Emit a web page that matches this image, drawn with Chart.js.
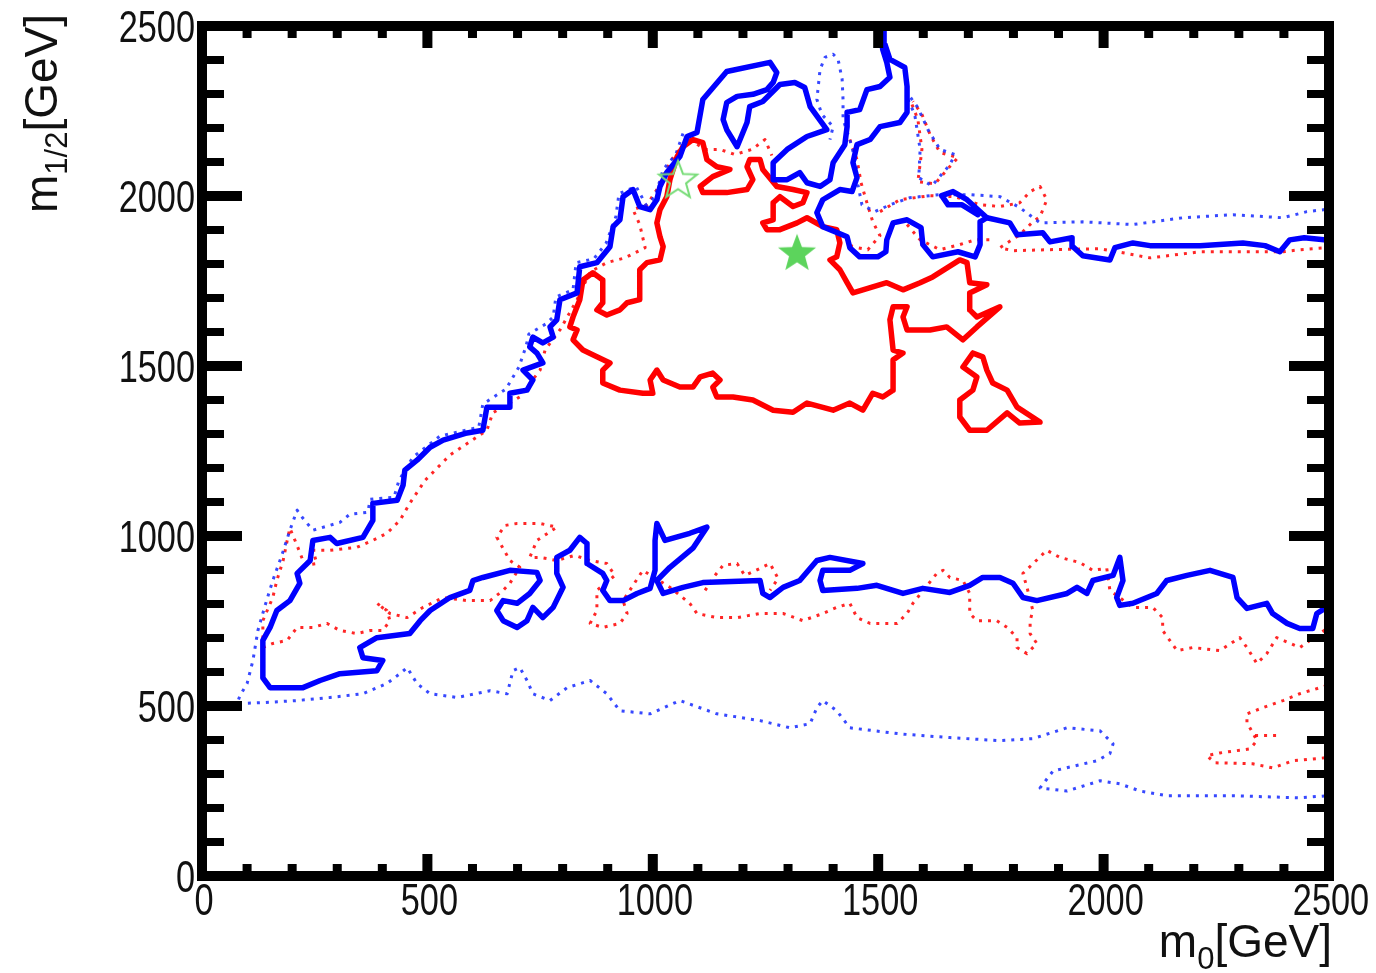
<!DOCTYPE html>
<html>
<head>
<meta charset="utf-8">
<script src="https://cdn.jsdelivr.net/npm/chart.js@4/dist/chart.umd.min.js"></script>
<style>
  html, body { margin: 0; padding: 0; background: #fff; }
  #wrap { width: 1376px; height: 973px; }
</style>
</head>
<body>
<div id="wrap"><canvas id="c" width="1376" height="973"></canvas></div>
<script>
// axis ranges and tick labels (GeV)
const xRange = [0, 2500];
const yRange = [0, 2500];
const xTickLabels = [0, 500, 1000, 1500, 2000, 2500];
const yTickLabels = [0, 500, 1000, 1500, 2000, 2500];
const minorStep = 100;

// contour lines, [m0, m1/2] in GeV
const blueSolidMain = [
  [2500,1870],[2445,1877],[2413,1871],[2391,1836],[2358,1854],[2309,1862],[2214,1854],[2103,1854],
  [2065,1862],[2025,1848],[2014,1812],[1954,1824],[1932,1851],[1930,1877],[1881,1865],[1865,1892],
  [1808,1886],[1792,1921],[1741,1936],[1726,1924],[1726,1857],[1715,1821],[1677,1836],[1621,1821],
  [1599,1857],[1595,1907],[1564,1930],[1533,1921],[1519,1871],[1517,1836],[1499,1821],[1459,1821],
  [1437,1848],[1431,1880],[1377,1910],[1364,1951],[1377,1989],[1415,2019],[1442,2013],[1453,2054],
  [1444,2098],[1453,2151],[1482,2166],[1504,2204],[1548,2216],[1564,2246],[1564,2322],[1559,2378],
  [1526,2402],[1515,2446],[1513,2495],[1504,2490],[1510,2431],[1519,2393],[1526,2349],[1504,2322],
  [1475,2313],[1459,2254],[1431,2246],[1431,2204],[1426,2151],[1400,2098],[1393,2048],[1371,2028],
  [1342,2039],[1326,2069],[1298,2048],[1267,2048],[1267,2098],[1298,2137],[1342,2175],[1386,2195],
  [1349,2263],[1337,2319],[1315,2334],[1282,2328],[1244,2278],[1215,2263],[1209,2216],[1187,2145],
  [1164,2195],[1156,2225],[1164,2275],[1187,2293],[1222,2299],[1253,2313],[1267,2334],[1275,2363],
  [1260,2393],[1164,2366],[1111,2284],[1098,2187],[1076,2175],[1060,2116],[1031,2069],[1016,2028],
  [1009,1989],[994,1960],[971,1969],[956,2019],[934,1998],[927,1930],[912,1910],[905,1851],
  [876,1804],[838,1792],[832,1715],[794,1695],[787,1636],[772,1615],[779,1585],[756,1568],
  [734,1585],[727,1556],[743,1538],[756,1509],[712,1488],[734,1459],[721,1429],[683,1420],
  [683,1379],[632,1379],[623,1311],[588,1303],[535,1282],[506,1261],[477,1223],[450,1194],
  [446,1149],[433,1105],[379,1096],[379,1046],[357,996],[299,978],[284,996],[246,987],
  [240,928],[211,890],[217,861],[195,810],[166,781],[151,731],[135,693],[135,583],
  [151,554],[224,554],[262,575],[306,595],[388,604],[401,634],[357,642],[350,672],
  [388,701],[461,713],[484,751],[506,781],[550,819],[594,840],[601,869],[623,878],
  [683,899],[743,893],[750,869],[727,831],[699,802],[668,810],[654,781],[668,751],
  [699,731],[721,751],[734,790],[756,760],[779,790],[801,849],[787,890],[787,937],
  [816,958],[838,996],[854,978],[854,919],[889,890],[898,869],[889,840],[905,810],
  [934,810],[965,831],[994,846],[1005,899],[1005,987],[1009,1037],[1027,987],[1082,1008],
  [1120,1026],[1089,964],[1038,908],[1009,869],[1023,831],[1067,849],[1111,863],[1238,869],
  [1244,831],[1260,819],[1289,849],[1326,869],[1364,928],[1393,937],[1466,919],[1437,899],
  [1377,899],[1371,869],[1377,840],[1453,846],[1497,855],[1555,831],[1599,846],[1659,834],
  [1703,855],[1732,878],[1770,878],[1799,861],[1821,819],[1852,810],[1919,831],[1941,849],
  [1963,831],[1976,869],[2021,884],[2036,937],[2043,869],[2029,819],[2036,796],[2065,802],
  [2118,831],[2140,869],[2185,884],[2236,899],[2287,878],[2296,819],[2318,787],[2362,802],
  [2375,772],[2407,743],[2435,728],[2464,728],[2473,772],[2491,787]
];
const blueSolidSpur = [
  [1741,1936],[1697,1989],[1666,2013],[1641,2001],[1655,1974],[1686,1974],[1721,1945]
];

const blueDotMain = [
  [1067,2184],[1051,2122],[1023,2078],[1005,1998],[985,1974],[963,2028],[925,2007],[918,1939],
  [896,1860],[869,1815],[830,1804],[823,1724],[785,1703],[779,1644],[763,1624],[725,1594],
  [719,1559],[703,1497],[674,1432],[623,1388],[614,1320],[528,1294],[468,1232],[437,1164],
  [426,1114],[373,1108],[368,1070],[328,1064],[306,1040],[246,1017],[224,1052],[211,1076],
  [195,1017],[177,943],[157,869],[140,796],[124,722],[113,634],[100,566],[84,530],
  [78,507],[135,510],[211,516],[284,525],[357,536],[410,566],[439,595],[455,613],
  [477,566],[506,536],[566,525],[639,545],[677,536],[690,604],[705,613],[721,575],
  [734,536],[772,516],[810,554],[861,575],[898,536],[927,486],[994,477],[1060,516],
  [1142,477],[1238,457],[1304,436],[1349,448],[1364,495],[1377,516],[1408,486],[1437,436],
  [1548,418],[1659,407],[1770,398],[1843,404],[1919,436],[1992,427],[2021,389],[2014,360],
  [1985,339],[1888,309],[1859,259],[1919,250],[1992,280],[2036,271],[2081,250],[2140,236],
  [2287,236],[2435,230],[2495,236]
];
const blueDotUpper = [
  [2491,1960],[2451,1954],[2398,1936],[2287,1945],[2176,1936],[2065,1916],[1954,1924],[1859,1921],
  [1814,1966],[1770,1998],[1703,2004],[1637,2004],[1570,1995],[1526,1974],[1493,1954],[1464,1974],
  [1455,2033],[1449,2107],[1437,2166],[1422,2225],[1422,2284],[1420,2343],[1411,2402],[1400,2417],
  [1382,2408],[1371,2372],[1364,2284],[1375,2240],[1400,2204],[1393,2166]
];
const blueDotLoop = [
  [1566,2284],[1581,2240],[1593,2137],[1590,2054],[1619,2030],[1659,2092],[1670,2122],[1637,2137],
  [1610,2196],[1588,2260],[1570,2293]
];

const redSolidMain = [
  [1067,2145],[1089,2166],[1111,2157],[1120,2107],[1142,2086],[1171,2078],[1133,2057],[1105,2028],
  [1111,2010],[1164,2010],[1209,2019],[1222,2048],[1209,2086],[1215,2107],[1238,2107],[1244,2078],
  [1275,2028],[1311,2019],[1342,2010],[1333,1980],[1311,1969],[1282,1998],[1267,1980],[1267,1930],
  [1244,1921],[1253,1901],[1282,1901],[1320,1921],[1342,1936],[1377,1910],[1408,1901],[1415,1862],
  [1408,1821],[1393,1812],[1415,1783],[1431,1745],[1444,1715],[1466,1724],[1519,1745],[1555,1724],
  [1593,1745],[1621,1762],[1681,1812],[1697,1804],[1703,1745],[1741,1739],[1703,1715],[1703,1665],
  [1719,1644],[1770,1674],[1719,1615],[1688,1577],[1652,1615],[1615,1606],[1564,1606],[1555,1644],
  [1564,1674],[1533,1674],[1526,1636],[1533,1547],[1555,1538],[1533,1518],[1533,1429],[1510,1409],
  [1488,1420],[1466,1370],[1437,1391],[1400,1370],[1342,1391],[1311,1364],[1267,1370],[1222,1400],
  [1178,1409],[1142,1409],[1133,1438],[1149,1459],[1133,1479],[1105,1468],[1089,1438],[1060,1438],
  [1023,1459],[1009,1488],[994,1459],[1000,1420],[978,1420],[927,1429],[889,1450],[889,1488],
  [905,1509],[876,1527],[845,1547],[823,1577],[832,1606],[816,1615],[823,1644],[838,1695],
  [845,1753],[867,1774],[889,1753],[889,1686],[876,1665],[898,1650],[927,1665],[943,1686],
  [971,1695],[971,1783],[987,1804],[1016,1812],[1023,1851],[1016,1880],[1009,1921],[1016,1960],
  [1031,1998],[1038,2048],[1054,2116],[1067,2145]
];
const redSolidLoop = [
  [1710,1538],[1688,1497],[1719,1468],[1710,1429],[1681,1400],[1681,1350],[1703,1311],[1741,1311],
  [1786,1362],[1814,1332],[1859,1335],[1808,1379],[1786,1429],[1754,1450],[1741,1488],[1732,1527],
  [1710,1538]
];

const redDotDiag = [
  [135,672],[135,751],[157,819],[166,869],[180,928],[189,987],[195,1023],[211,972],
  [228,914],[255,919],[246,958],[284,958],[344,967],[379,987],[410,1008],[439,1046],
  [461,1096],[495,1164],[550,1238],[632,1311],[645,1362],[705,1409],[750,1488],[761,1547],
  [794,1606],[832,1695],[861,1777],[898,1804],[938,1818],[983,1848],[971,1916],[956,1960],
  [987,1974],[1009,2019],[1027,2072],[1049,2122],[1082,2166],[1116,2137],[1149,2137],[1182,2122],
  [1220,2137],[1249,2166],[1264,2119]
];
const redDotLower = [
  [135,672],[157,684],[189,693],[211,731],[246,731],[277,743],[306,722],[344,713],
  [373,722],[401,722],[417,751],[410,781],[388,802],[417,772],[455,760],[490,790],
  [535,819],[588,810],[639,810],[668,840],[683,861],[705,908],[683,928],[654,996],
  [672,1031],[699,1037],[750,1037],[787,1026],[743,987],[727,937],[750,937],[787,928],
  [827,943],[861,928],[898,919],[916,884],[876,840],[876,781],[861,743],[889,731],
  [927,743],[943,772],[934,810],[978,899],[1038,849],[1082,802],[1098,772],[1142,760],
  [1187,760],[1238,772],[1289,772],[1333,751],[1377,772],[1408,790],[1437,802],[1453,760],
  [1482,743],[1542,743],[1564,772],[1577,802],[1630,890],[1644,899],[1659,878],[1688,869],
  [1703,831],[1703,772],[1719,751],[1763,751],[1786,731],[1808,701],[1808,672],[1830,654],
  [1852,684],[1837,713],[1837,751],[1843,781],[1830,849],[1821,890],[1874,958],[1903,937],
  [1947,922],[1976,899],[2007,905],[2014,840],[2065,790],[2109,790],[2131,760],[2131,722],
  [2163,663],[2198,672],[2258,663],[2302,701],[2318,672],[2340,625],[2362,654],[2384,701],
  [2435,672],[2480,713],[2495,728]
];
const redDotIsland = [
  [1116,840],[1138,884],[1156,914],[1187,919],[1204,884],[1238,905],[1260,919],[1278,875],[1260,840]
];
const redDotMid = [
  [1437,2166],[1453,2107],[1462,2039],[1473,1989],[1488,1924],[1504,1883],[1477,1842],[1442,1851],[1428,1877]
];
const redDotLoop = [
  [1575,2269],[1588,2225],[1597,2137],[1588,2042],[1626,2036],[1655,2081],[1677,2113],[1637,2128],
  [1615,2181],[1597,2240],[1577,2278]
];
const redDotUpperRight = [
  [1504,1954],[1548,1989],[1615,2001],[1670,1998],[1726,1974],[1770,1969],[1814,1980],[1837,2013],
  [1859,2028],[1874,1989],[1859,1939],[1843,1924],[1814,1886],[1770,1848],[1799,1839],[1874,1842],
  [1992,1845],[2043,1833],[2103,1818],[2214,1836],[2325,1836],[2398,1836],[2435,1842],[2495,1848]
];
const redDotInner = [
  [1564,1916],[1593,1871],[1637,1842],[1681,1857],[1715,1871],[1754,1871]
];
const redDotBottomRight = [
  [2495,560],[2435,536],[2398,516],[2353,495],[2318,477],[2318,451],[2331,421],[2340,398],
  [2325,374],[2258,362],[2229,354],[2247,333],[2331,330],[2375,318],[2420,339],[2495,348]
];
const redDotSpur = [[2336,413],[2391,413]];

// best-fit points (green stars)
const bestFitFilled = [[1320,1833]];
const bestFitOpen = [[1056,2048]];

const BLUE = '#0000ff';
const RED = '#ff0000';
const GREEN = 'rgb(92,212,92)';

function pts(a) { return a.map(p => ({ x: p[0], y: p[1] })); }

function starImage(filled) {
  const s = 46, c = document.createElement('canvas');
  c.width = s; c.height = s;
  const g = c.getContext('2d');
  const R = s / 2 - 3, r = R * 0.42;
  g.beginPath();
  for (let i = 0; i < 10; i++) {
    const a = -Math.PI / 2 + i * Math.PI / 5;
    const rr = i % 2 ? r : R;
    g.lineTo(s / 2 + rr * Math.cos(a), s / 2 + 1 + rr * Math.sin(a));
  }
  g.closePath();
  if (filled) { g.fillStyle = GREEN; g.fill(); }
  else { g.strokeStyle = 'rgb(120,220,120)'; g.lineWidth = 2; g.stroke(); }
  return c;
}

function line(data, color, width, dash) {
  return {
    data: pts(data), showLine: true, borderColor: color, borderWidth: width,
    borderDash: dash || [], pointRadius: 0, pointHoverRadius: 0, fill: false, tension: 0,
    borderCapStyle: dash ? 'butt' : 'round', borderJoinStyle: 'round'
  };
}

const dot = [3, 6];
const blueDotColor = 'rgba(20,40,255,0.85)';
const redDotColor = 'rgba(255,0,0,0.85)';
const datasets = [
  { data: pts(bestFitFilled), pointStyle: starImage(true), showLine: false },
  { data: pts(bestFitOpen), pointStyle: starImage(false), showLine: false },
  line(blueSolidMain, BLUE, 5.5),
  line(blueSolidSpur, BLUE, 5.5),
  line(redSolidMain, RED, 5.5),
  line(redSolidLoop, RED, 5.5),
  line(blueDotMain, blueDotColor, 3, dot),
  line(blueDotUpper, blueDotColor, 3, dot),
  line(blueDotLoop, blueDotColor, 3, dot),
  line(redDotDiag, redDotColor, 3, dot),
  line(redDotLower, redDotColor, 3, dot),
  line(redDotIsland, redDotColor, 3, dot),
  line(redDotMid, redDotColor, 3, dot),
  line(redDotLoop, redDotColor, 3, dot),
  line(redDotUpperRight, redDotColor, 3, dot),
  line(redDotInner, redDotColor, 3, dot),
  line(redDotBottomRight, redDotColor, 3, dot),
  line(redDotSpur, redDotColor, 3, dot)
];

// frame, inward ticks, labels and titles in the ROOT style
const framePlugin = {
  id: 'frame',
  afterDraw(chart) {
    const ctx = chart.ctx, a = chart.chartArea;
    const xs = chart.scales.x, ys = chart.scales.y;
    ctx.save();
    ctx.fillStyle = '#000';
    for (let v = xRange[0]; v <= xRange[1]; v += minorStep) {
      const px = xs.getPixelForValue(v);
      const major = v % 500 === 0;
      const len = major ? 22 : 12, w = major ? 10 : 9;
      ctx.fillRect(px - w / 2, a.bottom - len, w, len);
      ctx.fillRect(px - w / 2, a.top, w, len);
    }
    for (let v = yRange[0]; v <= yRange[1]; v += minorStep) {
      const py = ys.getPixelForValue(v);
      const major = v % 500 === 0;
      const len = major ? 40 : 22, w = major ? 10 : 8;
      ctx.fillRect(a.left, py - w / 2, len, w);
      ctx.fillRect(a.right - len, py - w / 2, len, w);
    }
    ctx.lineWidth = 10;
    ctx.strokeStyle = '#000';
    ctx.strokeRect(a.left, a.top, a.right - a.left, a.bottom - a.top);

    const sx = 0.78;
    ctx.font = '44px "Liberation Sans", Arial, sans-serif';
    ctx.fillStyle = '#111';
    ctx.textBaseline = 'alphabetic';
    xTickLabels.forEach(v => {
      const t = String(v), w = ctx.measureText(t).width * sx;
      const px = xs.getPixelForValue(v);
      ctx.save(); ctx.translate(px - w / 2 + 2, 915); ctx.scale(sx, 1);
      ctx.fillText(t, 0, 0); ctx.restore();
    });
    yTickLabels.forEach(v => {
      const t = String(v), w = ctx.measureText(t).width * sx;
      const py = ys.getPixelForValue(v);
      ctx.save(); ctx.translate(195 - w, py + 16); ctx.scale(sx, 1);
      ctx.fillText(t, 0, 0); ctx.restore();
    });

    // x title: m_0[GeV]
    const big = '46px "Liberation Sans", Arial, sans-serif';
    const small = '31px "Liberation Sans", Arial, sans-serif';
    const tx = 1.0;
    ctx.font = big; const wm = ctx.measureText('m').width * tx, wg = ctx.measureText('[GeV]').width * tx;
    ctx.font = small; const w0 = ctx.measureText('0').width * tx;
    let x0 = 1332 - (wm + w0 + wg);
    ctx.save(); ctx.translate(x0, 957); ctx.scale(tx, 1);
    ctx.font = big; ctx.fillText('m', 0, 0);
    ctx.font = small; ctx.fillText('0', wm / tx, 12);
    ctx.font = big; ctx.fillText('[GeV]', (wm + w0) / tx, 0);
    ctx.restore();

    // y title: m_1/2[GeV], rotated
    ctx.font = small; const w12 = ctx.measureText('1/2').width * tx;
    ctx.save(); ctx.translate(57, 213); ctx.rotate(-Math.PI / 2); ctx.scale(tx, 1);
    ctx.font = big; ctx.fillText('m', 0, 0);
    ctx.font = small; ctx.fillText('1/2', wm / tx, 10);
    ctx.font = big; ctx.fillText('[GeV]', (wm + w12) / tx, 0);
    ctx.restore();
    ctx.restore();
  }
};

new Chart(document.getElementById('c'), {
  type: 'scatter',
  data: { datasets },
  options: {
    responsive: false,
    animation: false,
    events: [],
    layout: { padding: { left: 0, top: 26, right: 47, bottom: 0 } },
    plugins: { legend: { display: false }, tooltip: { enabled: false } },
    scales: {
      x: {
        type: 'linear', min: xRange[0], max: xRange[1],
        ticks: { display: false, stepSize: 500 },
        grid: { display: false }, border: { display: false },
        afterFit(s) { s.height = 97; }
      },
      y: {
        type: 'linear', min: yRange[0], max: yRange[1],
        ticks: { display: false, stepSize: 500 },
        grid: { display: false }, border: { display: false },
        afterFit(s) { s.width = 202; }
      }
    }
  },
  plugins: [framePlugin]
});
</script>
</body>
</html>
